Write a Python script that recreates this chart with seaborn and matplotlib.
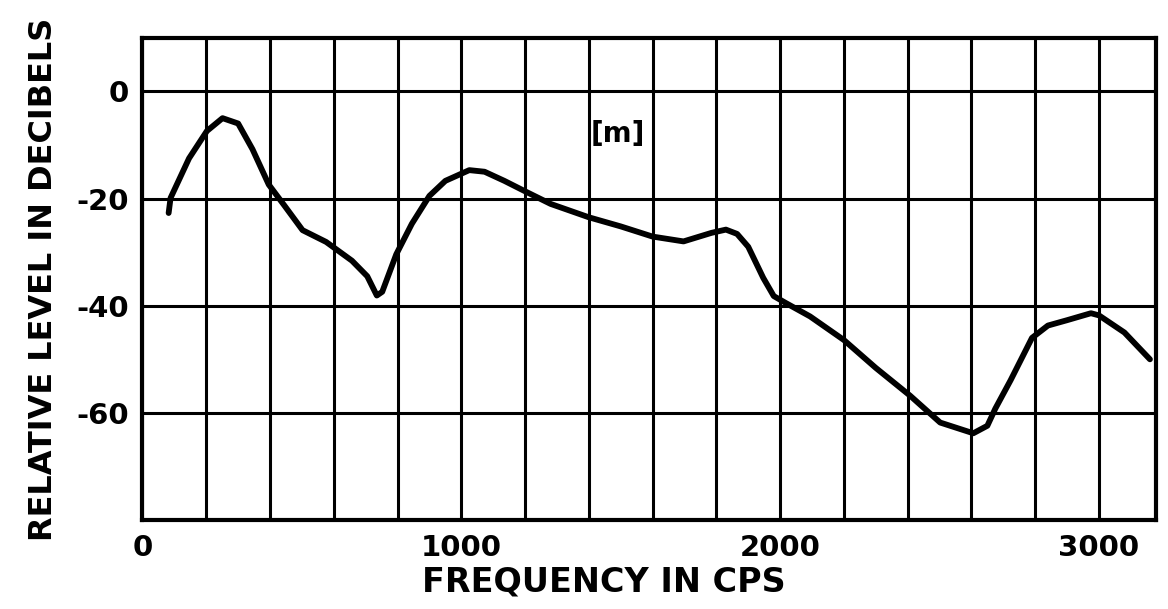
import pandas as pd
import matplotlib.pyplot as plt
import seaborn as sns

# values (local grid)
freq = [82, 88, 146, 202, 251, 300, 345, 396, 445, 502, 576, 657, 705, 735, 752,
        796, 845, 900, 950, 1025, 1073, 1135, 1195, 1280, 1400, 1500, 1600, 1697,
        1785, 1830, 1865, 1900, 1947, 1980, 2015, 2094, 2200, 2300, 2408, 2502,
        2606, 2650, 2675, 2723, 2790, 2840, 2900, 2975, 3000, 3080, 3160]
level = [-22.7, -19.9, -12.5, -7.4, -5.0, -6.0, -10.8, -17.4, -21.3, -25.9, -28.1,
         -31.6, -34.5, -38.1, -37.4, -30.4, -24.7, -19.5, -16.7, -14.7, -15.0, -16.7,
         -18.5, -21.0, -23.5, -25.2, -27.1, -28.0, -26.4, -25.8, -26.6, -29.0, -34.8,
         -38.2, -39.4, -42.0, -46.4, -51.6, -56.8, -61.8, -63.8, -62.4, -59.2, -53.9,
         -46.0, -43.7, -42.7, -41.4, -41.8, -45.0, -50.0]

x_grid = list(range(0, 3001, 200))
x_labels = ["0", "1000", "2000", "3000"]
y_ticks = [0, -20, -40, -60]
y_labels = ["0", "-20", "-40", "-60"]

df = pd.DataFrame({"freq": freq, "level": level})

sns.set_style("white")
plt.rcParams["font.family"] = ["DejaVu Sans"]
plt.rcParams["text.color"] = "black"
plt.rcParams["axes.labelcolor"] = "black"
plt.rcParams["xtick.color"] = "black"
plt.rcParams["ytick.color"] = "black"

fig = plt.figure(figsize=(11.68, 6.09), dpi=100)
ax = fig.add_axes([0.122, 0.146, 0.868, 0.792])

sns.lineplot(data=df, x="freq", y="level", color="black", linewidth=4.2, ax=ax)

ax.set_xlim(0, 3180)
ax.set_ylim(-80, 10)
ax.set_xticks(x_grid)
ax.set_xticklabels([str(v) if v % 1000 == 0 else "" for v in x_grid],
                   fontsize=21, fontweight="bold")
ax.set_yticks(y_ticks)
ax.set_yticklabels(y_labels, fontsize=21, fontweight="bold")
ax.tick_params(length=0, pad=10)
ax.grid(True, color="black", linewidth=2.2)
for s in ax.spines.values():
    s.set_color("black")
    s.set_linewidth(3)

ax.set_xlabel("FREQUENCY IN CPS", fontsize=24, fontweight="bold")
ax.xaxis.set_label_coords(0.455, -0.095)
ax.set_ylabel("RELATIVE LEVEL IN DECIBELS", fontsize=23, fontweight="bold", labelpad=12)
ax.text(1490, -8, "[m]", fontsize=20, fontweight="bold", ha="center", va="center")

plt.savefig("out.png", dpi=100)
plt.close()
